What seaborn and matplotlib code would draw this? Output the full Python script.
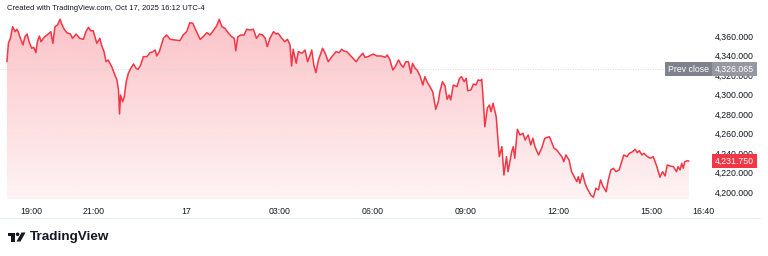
import numpy as np
import matplotlib
matplotlib.use("Agg")
import matplotlib.pyplot as plt
import seaborn as sns
from matplotlib.transforms import Affine2D, blended_transform_factory
from matplotlib.patches import Rectangle, Circle, Polygon

# ---------------- data ----------------
# minutes since 18:00 (Oct 16) and price
minutes_since_1800 = [
    12, 15, 19, 23, 28, 31, 34, 37, 43, 47,
    51, 55, 60, 64, 68, 71, 75, 78, 84, 92,
    97, 101, 105, 110, 115, 118, 123, 128, 135, 139,
    146, 153, 160, 165, 170, 174, 179, 186, 192, 195,
    200, 204, 208, 215, 221, 225, 228, 230, 232, 236,
    239, 243, 247, 252, 257, 262, 266, 271, 276, 283,
    289, 295, 299, 302, 307, 315, 321, 328, 337, 347,
    353, 360, 366, 372, 376, 382, 386, 392, 399, 405,
    410, 418, 423, 428, 434, 441, 447, 452, 455, 459,
    465, 471, 476, 483, 489, 495, 501, 507, 512, 516,
    521, 528, 533, 537, 544, 550, 555, 560, 563, 566,
    572, 576, 583, 589, 594, 599, 602, 606, 610, 615,
    623, 628, 634, 641, 649, 655, 660, 664, 670, 676,
    682, 688, 694, 701, 705, 711, 721, 728, 737, 744,
    748, 753, 759, 763, 770, 775, 779, 784, 789, 794,
    797, 802, 806, 812, 817, 821, 826, 831, 836, 839,
    842, 847, 850, 855, 860, 864, 868, 871, 876, 883,
    888, 892, 897, 901, 904, 910, 915, 920, 924, 929,
    931, 934, 937, 942, 946, 949, 953, 959, 963, 965,
    970, 974, 979, 982, 989, 992, 995, 1000, 1005, 1011,
    1015, 1021, 1026, 1030, 1034, 1041, 1047, 1053, 1062, 1066,
    1071, 1076, 1081, 1086, 1090, 1094, 1100, 1105, 1110, 1115,
    1118, 1121, 1126, 1131, 1135, 1142, 1147, 1152, 1157, 1161,
    1166, 1172, 1176, 1181, 1186, 1191, 1197, 1202, 1206, 1212,
    1217, 1223, 1228, 1232, 1236, 1241, 1245, 1250, 1257, 1263,
    1270, 1276, 1281, 1286, 1290, 1295, 1302, 1308, 1311, 1315,
    1318, 1321, 1324, 1329, 1332,
]
prices = [
    4333.6, 4352.8, 4357.9, 4369.5, 4364.4, 4366.9, 4364.4, 4359.3, 4350.8, 4359.3,
    4362.0, 4354.1, 4347.4, 4348.4, 4342.9, 4354.1, 4360.0, 4354.1, 4358.7, 4362.0,
    4364.4, 4352.5, 4369.5, 4371.3, 4377.1, 4372.3, 4366.9, 4363.4, 4362.0, 4357.6,
    4362.0, 4357.6, 4356.6, 4364.4, 4368.9, 4365.4, 4365.4, 4352.5, 4357.6, 4350.8,
    4343.9, 4333.6, 4335.4, 4328.5, 4320.0, 4314.9, 4304.6, 4280.0, 4299.5, 4292.6,
    4297.1, 4313.1, 4321.7, 4326.9, 4331.3, 4326.9, 4325.8, 4330.3, 4338.8, 4338.8,
    4342.9, 4343.9, 4345.6, 4339.5, 4343.9, 4357.6, 4361.0, 4356.6, 4355.9, 4355.2,
    4361.0, 4364.4, 4373.6, 4373.0, 4367.9, 4361.0, 4356.6, 4359.3, 4363.4, 4361.0,
    4364.4, 4370.3, 4377.1, 4369.5, 4367.9, 4362.8, 4359.3, 4357.6, 4344.9, 4359.3,
    4361.0, 4361.0, 4366.9, 4366.2, 4366.9, 4357.6, 4362.0, 4361.0, 4357.6, 4349.0,
    4357.6, 4364.4, 4362.0, 4362.8, 4357.6, 4354.1, 4356.6, 4350.8, 4329.2, 4346.4,
    4332.0, 4343.9, 4342.3, 4345.6, 4333.6, 4340.5, 4345.6, 4330.3, 4322.4, 4335.4,
    4347.4, 4342.3, 4333.6, 4338.8, 4343.9, 4342.9, 4346.4, 4344.6, 4343.9, 4340.5,
    4337.1, 4333.6, 4338.2, 4342.3, 4338.2, 4338.8, 4341.5, 4339.5, 4339.5, 4338.2,
    4340.5, 4336.1, 4325.1, 4327.9, 4335.4, 4330.3, 4327.9, 4333.6, 4333.6, 4321.7,
    4332.0, 4326.9, 4325.1, 4318.3, 4309.7, 4318.3, 4312.1, 4308.0, 4302.9, 4294.4,
    4284.8, 4292.6, 4302.9, 4313.1, 4308.7, 4295.1, 4299.5, 4294.4, 4309.7, 4308.0,
    4316.6, 4318.3, 4313.1, 4316.6, 4303.9, 4304.6, 4310.8, 4309.7, 4314.9, 4314.2,
    4315.6, 4294.4, 4267.0, 4286.2, 4289.2, 4282.4, 4291.0, 4277.2, 4249.9, 4236.2,
    4246.5, 4217.4, 4236.2, 4220.8, 4241.3, 4246.5, 4234.6, 4264.3, 4258.5, 4260.2,
    4253.3, 4258.5, 4248.2, 4255.1, 4246.5, 4238.0, 4244.8, 4255.1, 4256.7, 4251.6,
    4244.8, 4243.1, 4239.7, 4236.2, 4231.1, 4238.0, 4232.8, 4220.8, 4215.7, 4210.6,
    4215.7, 4208.9, 4219.2, 4208.9, 4203.8, 4196.9, 4194.6, 4203.8, 4202.1, 4212.3,
    4205.4, 4200.3, 4212.3, 4222.6, 4224.3, 4220.8, 4222.6, 4231.1, 4238.0, 4236.2,
    4239.7, 4241.3, 4243.8, 4240.3, 4242.4, 4238.0, 4239.7, 4236.9, 4234.6, 4236.2,
    4226.0, 4215.1, 4220.8, 4216.4, 4227.7, 4226.7, 4226.0, 4220.8, 4226.0, 4222.6,
    4229.4, 4224.3, 4231.1, 4232.1, 4231.75,
]
assert len(minutes_since_1800) == len(prices)

time_tick_minutes = [60, 180, 360, 540, 720, 900, 1080, 1260, 1360]
time_tick_labels = ["19:00", "21:00", "17", "03:00", "06:00", "09:00", "12:00", "15:00", "16:40"]
price_ticks = [4200, 4220, 4240, 4260, 4280, 4300, 4320, 4340, 4360]
prev_close = 4326.065
last_price = 4231.750
header = "Created with TradingView.com, Oct 17, 2025 16:12 UTC-4"

# ---------------- styling ----------------
sns.set_theme(style="white")
plt.rcParams["font.family"] = ["Liberation Sans", "DejaVu Sans"]
RED = "#F23645"
TXT = "#131722"

W, H = 768, 256
fig = plt.figure(figsize=(W / 100, H / 100), dpi=100, facecolor="white")
ax = fig.add_axes([0, 1 - 199 / H, 712 / W, (199 - 12) / H])
ax.set_facecolor("white")

x = np.array(minutes_since_1800, dtype=float)
y = np.array(prices, dtype=float)

ymin, ymax = 4192.8, 4384.6
xmin, xmax = -1.35, 1376.7
ax.set_xlim(xmin, xmax)
ax.set_ylim(ymin, ymax)

# gradient fill under the line
poly = ax.fill_between(x, y, ymin, color="none", lw=0)
n = 256
alphas = np.linspace(0.30, 0.06, n)
grad = np.zeros((n, 1, 4))
grad[:, 0, 0] = 242 / 255
grad[:, 0, 1] = 54 / 255
grad[:, 0, 2] = 69 / 255
grad[:, 0, 3] = alphas
im = ax.imshow(grad, extent=[xmin, xmax, ymin, y.max()], aspect="auto",
               origin="upper", zorder=1, interpolation="bilinear")
im.set_clip_path(poly.get_paths()[0], transform=ax.transData)
ax.set_xlim(xmin, xmax)
ax.set_ylim(ymin, ymax)

# previous close dotted line
ax.axhline(prev_close, color="#d1d4dc", lw=0.6, ls=(0, (1, 2)), zorder=1.5)

sns.lineplot(x=x, y=y, ax=ax, color=RED, linewidth=1.1, zorder=3)

# axes
for s in ax.spines.values():
    s.set_visible(False)
ax.grid(False)
ax.yaxis.tick_right()
ax.set_yticks(price_ticks)
ax.set_yticklabels([f"{v:,.3f}" for v in price_ticks])
ax.set_xticks(time_tick_minutes)
ax.set_xticklabels(time_tick_labels)
ax.tick_params(axis="y", length=0, pad=2, labelsize=6.3, labelcolor=TXT)
ax.tick_params(axis="x", length=0, pad=5.5, labelsize=6.3, labelcolor=TXT)
ax.set_xlabel("")
ax.set_ylabel("")

# price labels on the scale
bt = blended_transform_factory(ax.transAxes, ax.transData)
ax.text(1.0 + 3 / 712, last_price, f"{last_price:,.3f}", transform=bt, ha="left", va="center",
        fontsize=6.3, color="white", zorder=6, clip_on=False,
        bbox=dict(boxstyle="square,pad=0.3", fc=RED, ec="none"))
ax.text(1.0 - 3 / 712, prev_close, "Prev close", transform=bt, ha="right", va="center",
        fontsize=6.3, color="white", zorder=6, clip_on=False,
        bbox=dict(boxstyle="square,pad=0.3", fc="#7f828c", ec="none"))
ax.text(1.0 + 3 / 712, prev_close, f"{prev_close:,.3f}", transform=bt, ha="left", va="center",
        fontsize=6.3, color="white", zorder=6, clip_on=False,
        bbox=dict(boxstyle="square,pad=0.3", fc="#9598a1", ec="none"))

# header
fig.text(7 / W, 1 - 9 / H, header, ha="left", va="center", fontsize=5.5, color=TXT)

# bottom separator line
px = Affine2D().scale(1 / W, -1 / H).translate(0, 1) + fig.transFigure
fig.add_artist(plt.Line2D([0, 760], [218, 218], transform=px, color="#eceef2", lw=0.8))

# TradingView logo
fig.add_artist(Rectangle((7.5, 232.5), 7.5, 3.2, transform=px, color=TXT, lw=0))
fig.add_artist(Rectangle((11.3, 232.5), 3.7, 9.0, transform=px, color=TXT, lw=0))
fig.add_artist(Circle((17.6, 234.3), 1.8, transform=px, color=TXT, lw=0))
fig.add_artist(Polygon([(16.5, 241.5), (20.5, 241.5), (25.5, 232.5), (21.5, 232.5)],
                       closed=True, transform=px, color=TXT, lw=0))
fig.text(30 / W, 1 - 237 / H, "TradingView", ha="left", va="center",
         fontsize=9.7, fontweight="bold", color=TXT)

fig.savefig("out.png", dpi=100, facecolor="white")
